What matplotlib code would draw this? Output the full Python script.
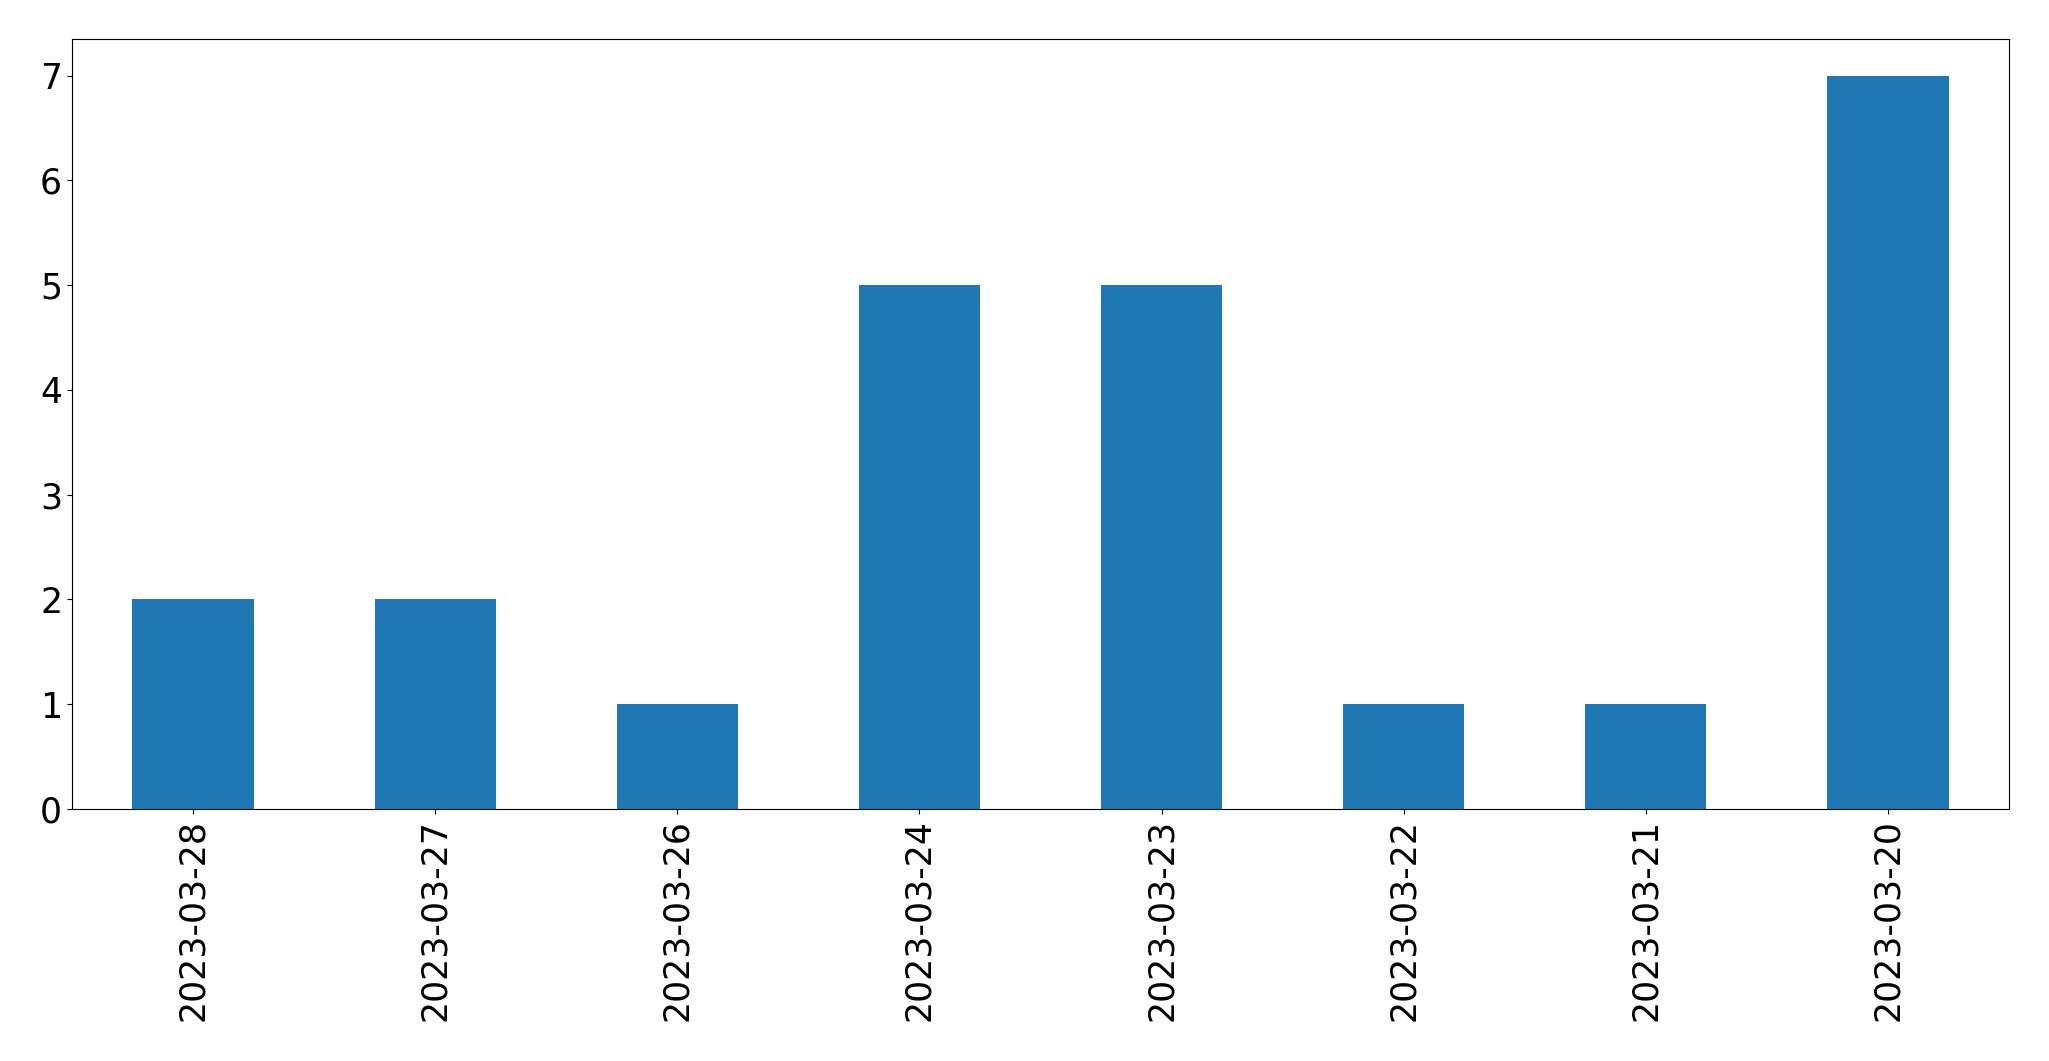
import matplotlib
matplotlib.use('Agg')
import matplotlib.pyplot as plt

# Dữ liệu
ngay = ['2023-03-28', '2023-03-27', '2023-03-26', '2023-03-24',
        '2023-03-23', '2023-03-22', '2023-03-21', '2023-03-20']
so_luong = [2, 2, 1, 5, 5, 1, 1, 7]

fig = plt.figure(figsize=(20.49, 10.61), dpi=100)
ax = fig.add_axes([0.0351, 0.2375, 0.9454, 0.7257])

x = range(len(ngay))
ax.bar(x, so_luong, width=0.5, color='#1f77b4')
ax.set_xlim(-0.5, len(ngay) - 0.5)
ax.set_xticks(list(x))
ax.set_xticklabels(ngay, rotation=90)
ax.tick_params(axis='both', labelsize=25)

fig.savefig('out.png', dpi=100)
